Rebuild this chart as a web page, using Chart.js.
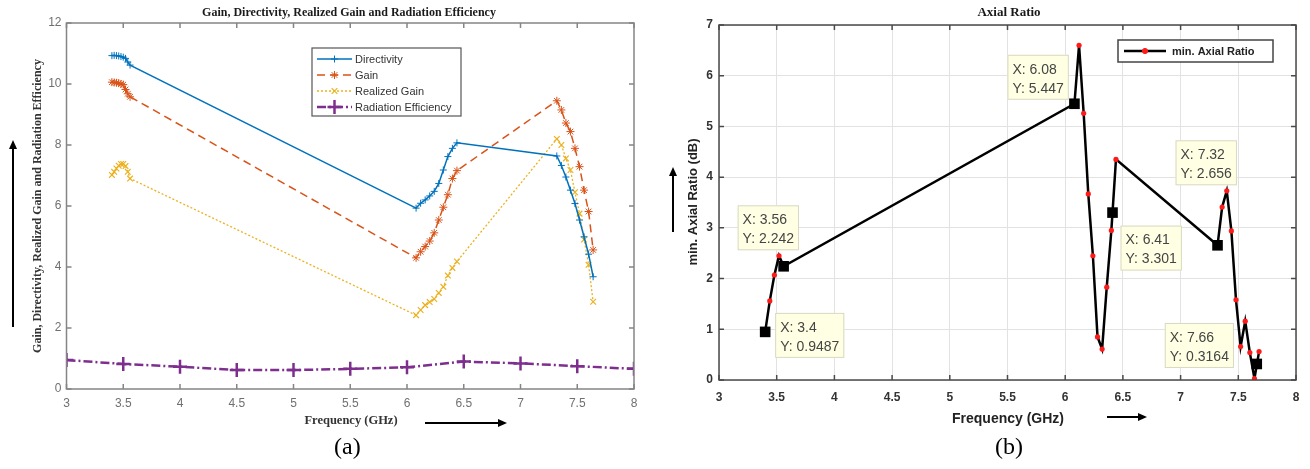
<!DOCTYPE html>
<html>
<head>
<meta charset="utf-8">
<script src="https://cdn.jsdelivr.net/npm/chart.js@4.4.0/dist/chart.umd.min.js"></script>
<style>
  html, body { margin: 0; padding: 0; background: #fff; }
  body { width: 1310px; height: 469px; position: relative; overflow: hidden; }
  .panel { position: absolute; top: 0; width: 655px; height: 440px; }
  #wrapA { left: 0; }
  #wrapB { left: 655px; }
  .cap { position: absolute; top: 433px; line-height: 28px; font: 24px "Liberation Serif", "Times New Roman", serif; color: #000; }
</style>
</head>
<body>
<div class="panel" id="wrapA"><canvas id="chartA" width="655" height="440"></canvas></div>
<div class="panel" id="wrapB"><canvas id="chartB" width="655" height="440"></canvas></div>
<div class="cap" style="left:334px">(a)</div>
<div class="cap" style="left:995px">(b)</div>

<script>
// (a) gain / directivity sweep, GHz
const freqA = [3.40, 3.42, 3.44, 3.46, 3.48, 3.50, 3.52, 3.54, 3.56,
               6.08, 6.12, 6.16, 6.20, 6.24, 6.28, 6.32, 6.36, 6.40, 6.44,
               7.32, 7.36, 7.40, 7.44, 7.48, 7.52, 7.56, 7.60, 7.64];
const directivity = [10.93, 10.94, 10.93, 10.92, 10.90, 10.88, 10.84, 10.72, 10.62,
                     5.93, 6.09, 6.20, 6.33, 6.48, 6.74, 7.18, 7.62, 7.89, 8.07,
                     7.64, 7.33, 6.95, 6.52, 6.08, 5.54, 4.99, 4.42, 3.68];
const gain = [10.06, 10.05, 10.04, 10.03, 10.00, 9.98, 9.82, 9.68, 9.58,
              4.30, 4.50, 4.67, 4.85, 5.12, 5.54, 5.96, 6.37, 6.90, 7.16,
              9.45, 9.15, 8.72, 8.44, 7.89, 7.29, 6.52, 5.82, 4.56];
const realizedGain = [7.02, 7.12, 7.23, 7.32, 7.38, 7.38, 7.31, 7.12, 6.90,
                      2.42, 2.59, 2.75, 2.85, 2.95, 3.15, 3.35, 3.72, 3.97, 4.18,
                      8.20, 8.00, 7.56, 7.18, 6.45, 5.75, 4.90, 4.07, 2.86];
const freqEff = [3, 3.5, 4, 4.5, 5, 5.5, 6, 6.5, 7, 7.5, 8];
const radEfficiency = [0.95, 0.82, 0.73, 0.62, 0.62, 0.66, 0.71, 0.90, 0.84, 0.75, 0.66];
const seriesNamesA = ['Directivity', 'Gain', 'Realized Gain', 'Radiation Efficiency'];

// (b) minimum axial ratio
const freqAR = [3.40, 3.44, 3.48, 3.52, 3.56,
                6.08, 6.12, 6.16, 6.20, 6.24, 6.28, 6.32, 6.36, 6.40, 6.44,
                7.32, 7.36, 7.40, 7.44, 7.48, 7.52, 7.56, 7.60, 7.64, 7.68];
const axialRatio = [0.9487, 1.56, 2.07, 2.45, 2.242,
                    5.447, 6.60, 5.26, 3.67, 2.45, 0.85, 0.61, 1.83, 2.95, 4.35,
                    2.656, 3.41, 3.73, 2.94, 1.58, 0.66, 1.16, 0.54, 0.03, 0.56];
const tipFreq = [3.4, 3.56, 6.08, 6.41, 7.32, 7.66];
const tipAR = [0.9487, 2.242, 5.447, 3.301, 2.656, 0.3164];

const freqTicks = [3, 3.5, 4, 4.5, 5, 5.5, 6, 6.5, 7, 7.5, 8];
const gainTicks = [0, 2, 4, 6, 8, 10, 12];
const arTicks = [0, 1, 2, 3, 4, 5, 6, 7];

// datatip box placement, pixels from the marked point
const tipOffsets = [[10, -19], [-46, -61], [-67, -49], [8, 13], [-42, -105], [-92, -41]];

const SERIF = '"Liberation Serif", "Times New Roman", serif';
const SANS = '"Liberation Sans", Arial, sans-serif';
const BLUE = '#0072BD', ORANGE = '#D95319', YELLOW = '#EDB120', PURPLE = '#7E2F8E';

const toXY = (xs, ys) => xs.map((x, i) => ({ x: x, y: ys[i] }));

function drawFrame(chart, color, width, tickLen) {
  const { ctx, chartArea: a, scales: { x, y } } = chart;
  ctx.save();
  ctx.strokeStyle = color;
  ctx.lineWidth = width;
  ctx.strokeRect(a.left, a.top, a.right - a.left, a.bottom - a.top);
  ctx.beginPath();
  x.ticks.forEach(t => {
    const px = x.getPixelForValue(t.value);
    ctx.moveTo(px, a.bottom); ctx.lineTo(px, a.bottom - tickLen);
    ctx.moveTo(px, a.top); ctx.lineTo(px, a.top + tickLen);
  });
  y.ticks.forEach(t => {
    const py = y.getPixelForValue(t.value);
    ctx.moveTo(a.left, py); ctx.lineTo(a.left + tickLen, py);
    ctx.moveTo(a.right, py); ctx.lineTo(a.right - tickLen, py);
  });
  ctx.stroke();
  ctx.restore();
}

function arrow(ctx, x1, y1, x2, y2) {
  const ang = Math.atan2(y2 - y1, x2 - x1);
  const len = 9, half = 4;
  ctx.save();
  ctx.strokeStyle = '#000';
  ctx.fillStyle = '#000';
  ctx.lineWidth = 2;
  ctx.beginPath();
  ctx.moveTo(x1, y1);
  ctx.lineTo(x2 - len * Math.cos(ang), y2 - len * Math.sin(ang));
  ctx.stroke();
  ctx.beginPath();
  ctx.moveTo(x2, y2);
  ctx.lineTo(x2 - len * Math.cos(ang) + half * Math.sin(ang), y2 - len * Math.sin(ang) - half * Math.cos(ang));
  ctx.lineTo(x2 - len * Math.cos(ang) - half * Math.sin(ang), y2 - len * Math.sin(ang) + half * Math.cos(ang));
  ctx.closePath();
  ctx.fill();
  ctx.restore();
}

function text(ctx, str, x, y, font, color, rotate) {
  ctx.save();
  ctx.font = font;
  ctx.fillStyle = color;
  ctx.textAlign = 'center';
  ctx.textBaseline = 'middle';
  ctx.translate(x, y);
  if (rotate) ctx.rotate(-Math.PI / 2);
  ctx.fillText(str, 0, 0);
  ctx.restore();
}

function legendEntry(ctx, ds, x0, x1, y) {
  ctx.save();
  ctx.strokeStyle = ds.borderColor;
  ctx.fillStyle = ds.pointBackgroundColor || ds.borderColor;
  ctx.lineWidth = ds.borderWidth;
  ctx.setLineDash(ds.borderDash || []);
  ctx.beginPath();
  ctx.moveTo(x0, y);
  ctx.lineTo(x1, y);
  ctx.stroke();
  ctx.setLineDash([]);
  ctx.strokeStyle = ds.pointBorderColor || ds.borderColor;
  ctx.lineWidth = ds.pointBorderWidth || 1;
  Chart.helpers.drawPoint(ctx, { pointStyle: ds.pointStyle, radius: ds.pointRadius, rotation: 0, borderWidth: ds.pointBorderWidth || 1 }, (x0 + x1) / 2, y);
  ctx.restore();
}

const decorA = {
  id: 'decorA',
  afterDatasetsDraw(chart) {
    const ctx = chart.ctx;
    // legend box
    ctx.save();
    ctx.fillStyle = '#fff';
    ctx.strokeStyle = '#555';
    ctx.lineWidth = 1.2;
    ctx.fillRect(312, 48, 149, 68);
    ctx.strokeRect(312, 48, 149, 68);
    ctx.restore();
    chart.data.datasets.forEach((ds, i) => {
      const y = 59 + i * 16;
      legendEntry(ctx, ds, 317, 352, y);
      ctx.save();
      ctx.font = '11px ' + SANS;
      ctx.fillStyle = '#333';
      ctx.textBaseline = 'middle';
      ctx.fillText(ds.label, 355, y + 0.5);
      ctx.restore();
    });
  },
  afterDraw(chart) {
    const ctx = chart.ctx;
    drawFrame(chart, '#858585', 1.5, 5);
    text(ctx, 'Gain, Directivity, Realized Gain and Radiation Efficiency', 349, 13, 'bold 12px ' + SERIF, '#1a1a1a');
    text(ctx, 'Gain, Directivity, Realized Gain and Radiation Efficiency', 38, 206, 'bold 12px ' + SERIF, '#333', true);
    text(ctx, 'Frequency (GHz)', 351, 421, 'bold 12.5px ' + SERIF, '#333');
    arrow(ctx, 13, 327, 13, 140);
    arrow(ctx, 425, 423, 507, 423);
  }
};

const decorB = {
  id: 'decorB',
  afterDatasetsDraw(chart) {
    const ctx = chart.ctx;
    const { x, y } = chart.scales;
    // data tips
    ctx.save();
    ctx.font = '14px ' + SANS;
    tipFreq.forEach((f, i) => {
      const px = x.getPixelForValue(f), py = y.getPixelForValue(tipAR[i]);
      const l1 = 'X: ' + f, l2 = 'Y: ' + tipAR[i];
      const w = Math.max(ctx.measureText(l1).width, ctx.measureText(l2).width) + 10;
      const bx = px + tipOffsets[i][0], by = py + tipOffsets[i][1];
      ctx.fillStyle = '#ffffe3';
      ctx.strokeStyle = '#d8d8c4';
      ctx.lineWidth = 1;
      ctx.fillRect(bx, by, w, 45);
      ctx.strokeRect(bx + 0.5, by + 0.5, w - 1, 44);
      ctx.fillStyle = '#454545';
      ctx.textBaseline = 'middle';
      ctx.fillText(l1, bx + 5, by + 15);
      ctx.fillText(l2, bx + 5, by + 34);
    });
    ctx.restore();
    // legend
    const ds = chart.data.datasets[1];
    ctx.save();
    ctx.fillStyle = '#fff';
    ctx.strokeStyle = '#444';
    ctx.lineWidth = 1.5;
    ctx.fillRect(463, 40, 155, 22);
    ctx.strokeRect(463, 40, 155, 22);
    ctx.restore();
    legendEntry(ctx, ds, 469, 511, 51);
    ctx.save();
    ctx.font = 'bold 11px ' + SANS;
    ctx.fillStyle = '#222';
    ctx.textBaseline = 'middle';
    ctx.fillText(ds.label, 517, 51.5);
    ctx.restore();
  },
  afterDraw(chart) {
    const ctx = chart.ctx;
    drawFrame(chart, '#4a4a4a', 1.5, 5);
    text(ctx, 'Axial Ratio', 354, 13, 'bold 13px ' + SERIF, '#1a1a1a');
    text(ctx, 'min. Axial Ratio (dB)', 38, 202, 'bold 13px ' + SANS, '#222', true);
    text(ctx, 'Frequency (GHz)', 353, 419, 'bold 14px ' + SANS, '#222');
    arrow(ctx, 18, 232, 18, 167);
    arrow(ctx, 452, 417, 492, 417);
  }
};

function tickSetter(values) {
  return s => { s.ticks = values.map(v => ({ value: v })); };
}
const plainLabel = v => String(v);

new Chart(document.getElementById('chartA'), {
  type: 'line',
  data: {
    datasets: [
      { label: seriesNamesA[0], data: toXY(freqA, directivity), borderColor: BLUE, pointBackgroundColor: BLUE,
        borderWidth: 1.5, pointStyle: 'cross', pointRadius: 3.5, pointBorderWidth: 1 },
      { label: seriesNamesA[1], data: toXY(freqA, gain), borderColor: ORANGE, pointBackgroundColor: ORANGE,
        borderWidth: 1.5, borderDash: [8, 5], pointStyle: 'star', pointRadius: 4, pointBorderWidth: 1 },
      { label: seriesNamesA[2], data: toXY(freqA, realizedGain), borderColor: YELLOW, pointBackgroundColor: YELLOW,
        borderWidth: 1.3, borderDash: [2, 2], pointStyle: 'crossRot', pointRadius: 4, pointBorderWidth: 1.2 },
      { label: seriesNamesA[3], data: toXY(freqEff, radEfficiency), borderColor: PURPLE, pointBackgroundColor: PURPLE,
        borderWidth: 2.5, borderDash: [9, 3, 2, 3], pointStyle: 'cross', pointRadius: 7, pointBorderWidth: 2.5 }
    ]
  },
  options: {
    responsive: false,
    animation: false,
    events: [],
    layout: { padding: { left: 0, top: 23, right: 21, bottom: 21 } },
    plugins: { legend: { display: false }, tooltip: { enabled: false } },
    elements: { line: { tension: 0 } },
    scales: {
      x: {
        type: 'linear', min: 3, max: 8,
        afterBuildTicks: tickSetter(freqTicks),
        afterFit: s => { s.height = 30; },
        grid: { display: false, drawTicks: false },
        border: { display: false },
        ticks: { font: { family: SANS, size: 12 }, color: '#707070', padding: 7, maxRotation: 0, callback: plainLabel }
      },
      y: {
        min: 0, max: 12,
        afterBuildTicks: tickSetter(gainTicks),
        afterFit: s => { s.width = 66.5; },
        grid: { display: false, drawTicks: false },
        border: { display: false },
        ticks: { font: { family: SANS, size: 12 }, color: '#707070', padding: 5, callback: plainLabel }
      }
    }
  },
  plugins: [decorA]
});

new Chart(document.getElementById('chartB'), {
  type: 'line',
  data: {
    datasets: [
      { label: '', data: toXY(tipFreq, tipAR), showLine: false, pointStyle: 'rect', pointRadius: 7.5,
        pointBackgroundColor: '#000', pointBorderColor: '#000', pointBorderWidth: 0, borderColor: '#000' },
      { label: 'min. Axial Ratio', data: toXY(freqAR, axialRatio), borderColor: '#000', borderWidth: 2.5,
        pointStyle: 'circle', pointRadius: 2.6, pointBackgroundColor: '#ff1a1a', pointBorderColor: '#ff1a1a', pointBorderWidth: 0 }
    ]
  },
  options: {
    responsive: false,
    animation: false,
    events: [],
    layout: { padding: { left: 0, top: 25, right: 14, bottom: 30 } },
    plugins: { legend: { display: false }, tooltip: { enabled: false } },
    elements: { line: { tension: 0 } },
    scales: {
      x: {
        type: 'linear', min: 3, max: 8,
        afterBuildTicks: tickSetter(freqTicks),
        afterFit: s => { s.height = 30; },
        grid: { color: '#e2e2e2', lineWidth: 1, drawTicks: false },
        border: { display: false },
        ticks: { font: { family: SANS, size: 12, weight: 'bold' }, color: '#333', padding: 10, maxRotation: 0, callback: plainLabel }
      },
      y: {
        min: 0, max: 7,
        afterBuildTicks: tickSetter(arTicks),
        afterFit: s => { s.width = 64; },
        grid: { color: '#e2e2e2', lineWidth: 1, drawTicks: false },
        border: { display: false },
        ticks: { font: { family: SANS, size: 12, weight: 'bold' }, color: '#333', padding: 6, callback: plainLabel }
      }
    }
  },
  plugins: [decorB]
});
</script>
</body>
</html>
